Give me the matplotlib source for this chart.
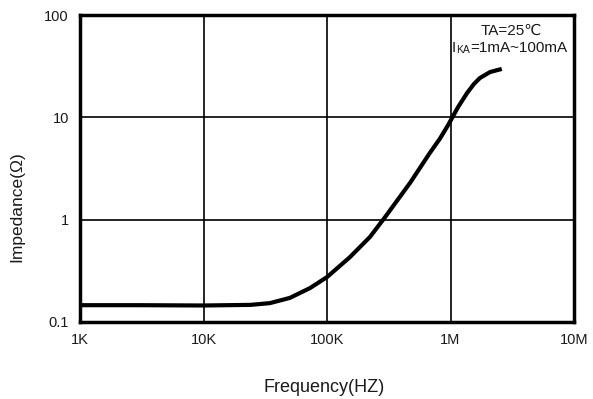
import matplotlib.pyplot as plt

plt.rcParams['font.family'] = ['Liberation Sans', 'DejaVu Sans']

# curve
freq = [1e3, 3e3, 1e4, 2.4e4, 3.45e4, 5e4, 7.3e4, 1e5, 1.53e5, 2.23e5, 2.95e5,
        4.7e5, 6.8e5, 8.2e5, 9.55e5, 1.15e6, 1.36e6, 1.55e6, 1.73e6, 2.09e6, 2.6e6]
imp = [0.146, 0.146, 0.145, 0.147, 0.153, 0.172, 0.215, 0.275, 0.43, 0.68, 1.06,
       2.29, 4.5, 6.2, 8.4, 12.6, 17.3, 21.3, 24.3, 27.8, 29.8]

xticks = [1e3, 1e4, 1e5, 1e6, 1e7]
xlabels = ['1K', '10K', '100K', '1M', '10M']
yticks = [0.1, 1, 10, 100]
ylabels = ['0.1', '1', '10', '100']

txt = '#1a1a1a'

fig = plt.figure(figsize=(5.93, 3.99), dpi=100)
ax = fig.add_axes([0.135, 0.193, 0.833, 0.769])

ax.plot(freq, imp, color='black', lw=3, solid_joinstyle='round', solid_capstyle='butt')
ax.set_xscale('log')
ax.set_yscale('log')
ax.set_xlim(1e3, 1e7)
ax.set_ylim(0.1, 100)

ax.set_xticks(xticks)
ax.set_xticklabels(xlabels)
ax.set_yticks(yticks)
ax.set_yticklabels(ylabels)
ax.minorticks_off()
ax.tick_params(length=0, labelsize=10.5, pad=8, labelcolor=txt)
ax.grid(True, color='black', lw=1.2)

for s in ax.spines.values():
    s.set_linewidth(2.5)

fig.text(0.029, 0.481, 'Impedance(Ω)', rotation=90, ha='center', va='center',
         fontsize=12.5, color=txt)
fig.text(0.546, 0.03, 'Frequency(HZ)', ha='center', va='center', fontsize=13, color=txt)

ax.text(3.09e6, 71, 'TA=25℃', ha='center', va='center', fontsize=11, color=txt)
t1 = ax.text(1.03e6, 47.5, 'I', ha='left', va='center', fontsize=11, color=txt)
t2 = ax.annotate('KA', xy=(1, 0), xycoords=t1, ha='left', va='bottom',
                 fontsize=7.5, color=txt)
ax.annotate('=1mA~100mA', xy=(1, 0), xycoords=t2, ha='left', va='bottom',
            fontsize=11, color=txt)

fig.savefig('out.png', dpi=100)
